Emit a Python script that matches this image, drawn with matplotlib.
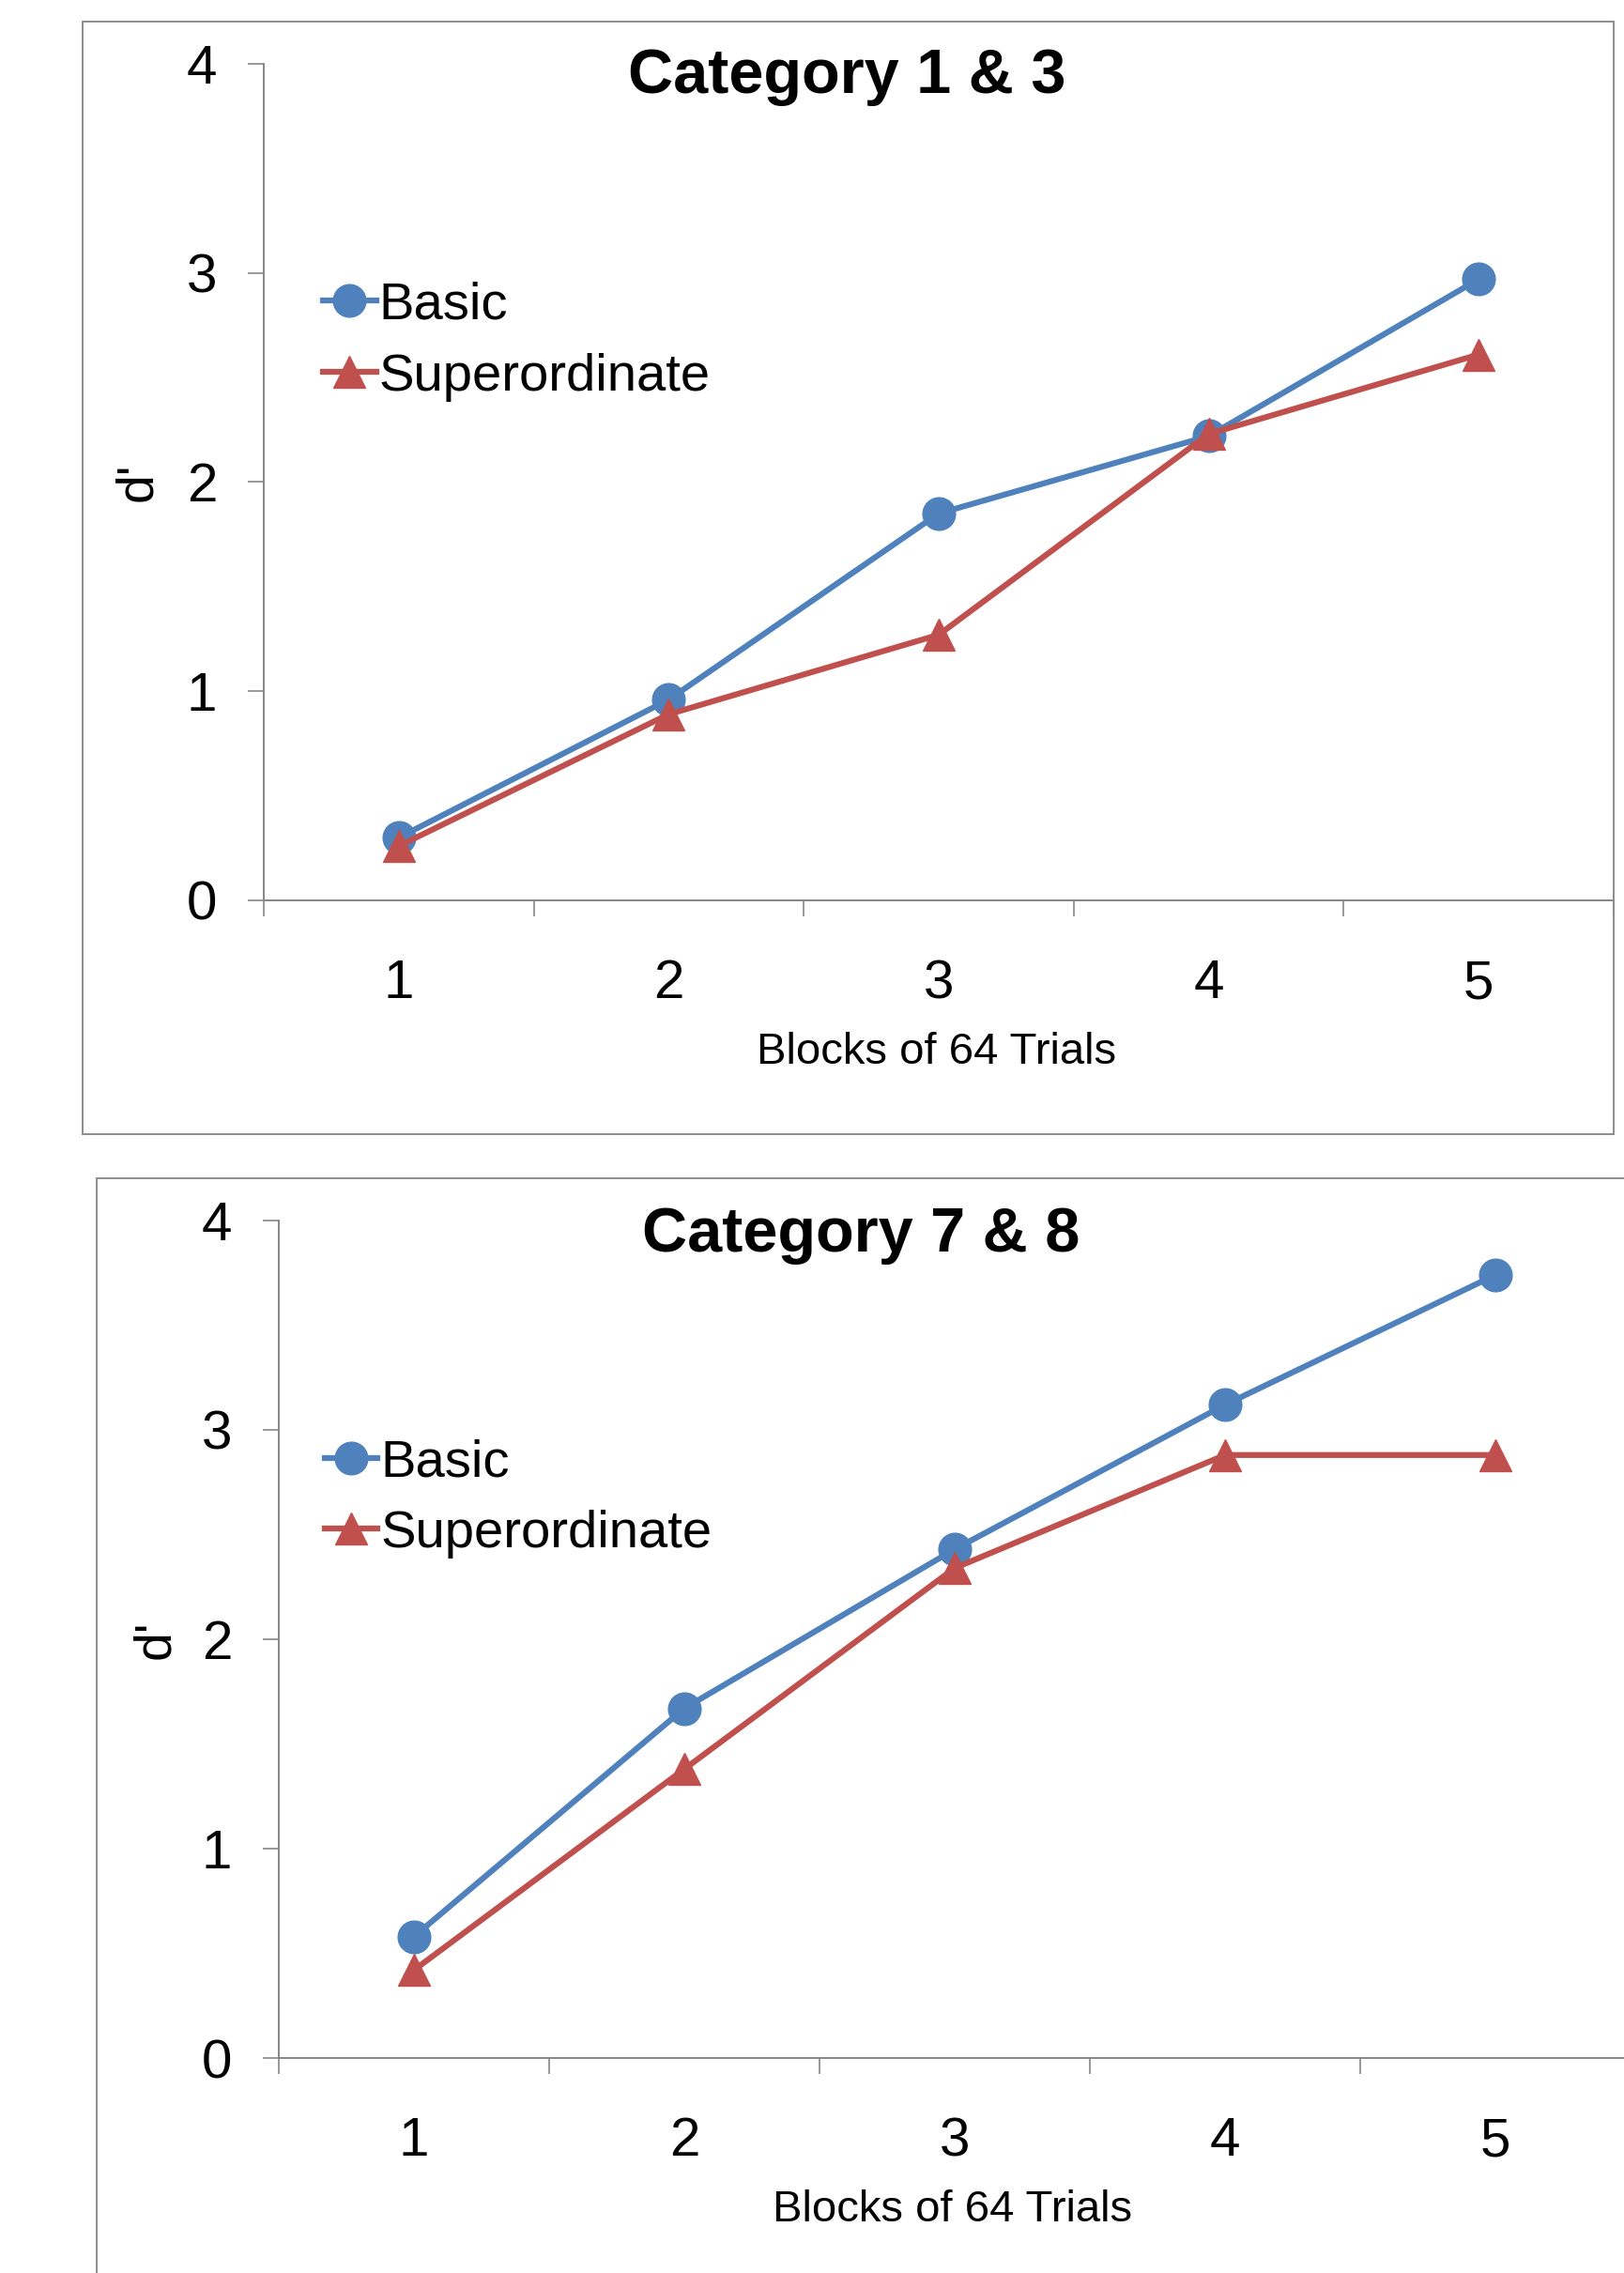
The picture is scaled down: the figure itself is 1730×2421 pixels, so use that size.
import matplotlib
matplotlib.use("Agg")
import matplotlib.pyplot as plt
from matplotlib.patches import Rectangle
from matplotlib.ticker import FixedLocator, NullFormatter

plt.rcParams.update({
    "font.family": ["Liberation Sans", "DejaVu Sans"],
})

W, H = 1730, 2421
BLUE = "#4F81BD"
RED = "#C0504D"
GRAY = "#868686"

blocks = [1, 2, 3, 4, 5]
series_names = ["Basic", "Superordinate"]

# Category 1 & 3
basic_13 = [0.30, 0.96, 1.85, 2.22, 2.97]
super_13 = [0.26, 0.89, 1.27, 2.23, 2.61]

# Category 7 & 8
basic_78 = [0.58, 1.67, 2.43, 3.12, 3.74]
super_78 = [0.42, 1.38, 2.34, 2.88, 2.88]


def px_rect(x0, y0, x1, y1):
    # pixel box (top-left origin) -> figure fraction [l, b, w, h]
    return [x0 / W, 1 - y1 / H, (x1 - x0) / W, (y1 - y0) / H]


def panel(fig, ax_px, box_px, title, title_xy, xlabel_xy, ylabel_x, legend_x,
          basic, sup):
    bx = px_rect(*box_px)
    fig.patches.append(Rectangle((bx[0], bx[1]), bx[2], bx[3], transform=fig.transFigure,
                                 fill=False, edgecolor="#8C8C8C", linewidth=1.4))

    ax = fig.add_axes(px_rect(*ax_px))
    ax.plot(blocks, basic, "-o", color=BLUE, linewidth=4.5, markersize=25,
            label=series_names[0], zorder=3)
    ax.plot(blocks, sup, "-^", color=RED, linewidth=4.5, markersize=25,
            label=series_names[1], zorder=4)

    ax.set_xlim(0.5, 5.5)
    ax.set_ylim(0, 4)
    ax.set_yticks([0, 1, 2, 3, 4])

    # category axis: tick marks between blocks, labels at block centres
    ax.xaxis.set_major_locator(FixedLocator([b - 0.5 for b in blocks] + [5.5]))
    ax.xaxis.set_major_formatter(NullFormatter())
    ax.xaxis.set_minor_locator(FixedLocator(blocks))
    ax.set_xticklabels([str(b) for b in blocks], minor=True)
    ax.tick_params(axis="x", which="major", length=12, width=1.2, color=GRAY, direction="out")
    ax.tick_params(axis="x", which="minor", length=0, pad=45, labelsize=42)
    ax.tick_params(axis="y", length=12, width=1.2, color=GRAY, direction="out",
                   pad=24, labelsize=42)

    for s in ["top", "right"]:
        ax.spines[s].set_visible(False)
    for s in ["left", "bottom"]:
        ax.spines[s].set_color(GRAY)
        ax.spines[s].set_linewidth(1.4)

    ax.set_ylabel("d'", fontsize=40, labelpad=0)
    ax.yaxis.set_label_coords(ylabel_x, 0.5)

    fig.text(title_xy[0] / W, 1 - title_xy[1] / H, title, fontsize=48,
             fontweight="bold", ha="center", va="center")
    fig.text(xlabel_xy[0] / W, 1 - xlabel_xy[1] / H, "Blocks of 64 Trials",
             fontsize=34, ha="center", va="center")

    ax.legend(loc="center left", bbox_to_anchor=(legend_x, 0.668), frameon=False,
              fontsize=40.5, handlelength=1.0, handletextpad=0.05,
              borderpad=0, borderaxespad=0, labelspacing=0.42)
    return ax


fig = plt.figure(figsize=(W / 100, H / 100), dpi=100)

panel(fig, (281, 68, 1719, 959), (88, 23, 1719, 1208), "Category 1 & 3",
      (902, 82), (998, 1121), -0.075, 0.044, basic_13, super_13)
panel(fig, (297, 1300, 1737, 2192), (103, 1255, 1760, 2460), "Category 7 & 8",
      (917, 1316), (1015, 2354), -0.073, 0.034, basic_78, super_78)

fig.savefig("out.png", dpi=100, facecolor="white")
